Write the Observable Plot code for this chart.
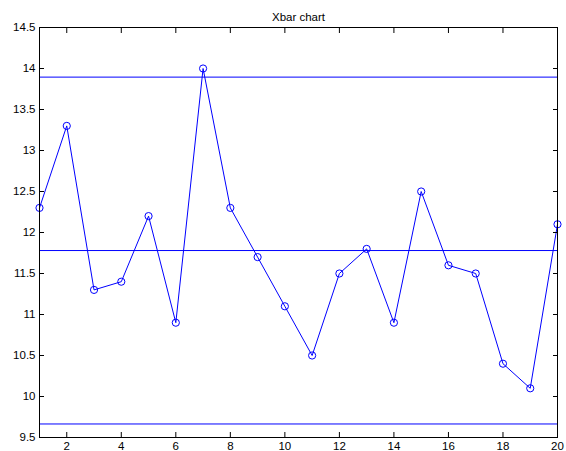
<!DOCTYPE html>
<html>
<head>
<meta charset="utf-8">
<script src="https://cdn.jsdelivr.net/npm/d3@7"></script>
<script src="https://cdn.jsdelivr.net/npm/@observablehq/plot@0.6"></script>
<style>
  html, body { margin: 0; padding: 0; background: #fff; }
</style>
</head>
<body>
<div id="chart"></div>
<script>
const title = "Xbar chart";
const samples = [1,2,3,4,5,6,7,8,9,10,11,12,13,14,15,16,17,18,19,20];
const means = [12.3,13.3,11.3,11.4,12.2,10.9,14.0,12.3,11.7,11.1,10.5,11.5,11.8,10.9,12.5,11.6,11.5,10.4,10.1,12.1];
const controlLimits = [13.895, 11.78, 9.665]; // UCL, CL, LCL
const xTicks = [2,4,6,8,10,12,14,16,18,20];
const yTicks = [9.5,10,10.5,11,11.5,12,12.5,13,13.5,14,14.5];

const data = samples.map((s, i) => ({sample: s, mean: means[i]}));
const blue = "#0000ff";

const chart = Plot.plot({
  width: 566,
  height: 451,
  marginTop: 27,
  marginBottom: 14,
  marginLeft: 39,
  marginRight: 9,
  style: {fontFamily: "'Liberation Sans', Arial, sans-serif", fontSize: "11.5px", color: "black", background: "white"},
  x: {domain: [1, 20]},
  y: {domain: [9.5, 14.5]},
  marks: [
    Plot.ruleY(controlLimits, {stroke: blue, strokeWidth: 1}),
    Plot.line(data, {x: "sample", y: "mean", stroke: blue, strokeWidth: 1}),
    Plot.dot(data, {x: "sample", y: "mean", stroke: blue, r: 3.6, strokeWidth: 1, fill: "none"}),
    Plot.axisX(xTicks, {anchor: "bottom", tickSize: -5, tickPadding: 9, tickFormat: d => String(d), label: null, stroke: "black"}),
    Plot.axisX(xTicks, {anchor: "top", tickSize: -5, tickFormat: () => "", label: null, stroke: "black"}),
    Plot.axisY(yTicks, {anchor: "left", tickSize: -5, tickPadding: 9, tickFormat: d => String(d), label: null, stroke: "black"}),
    Plot.axisY(yTicks, {anchor: "right", tickSize: -5, tickFormat: () => "", label: null, stroke: "black"}),
    Plot.frame({stroke: "black", strokeWidth: 1}),
    Plot.text([title], {frameAnchor: "top", dy: -15, fontSize: 11.5, fill: "black"})
  ]
});
document.getElementById("chart").appendChild(chart);
</script>
</body>
</html>
